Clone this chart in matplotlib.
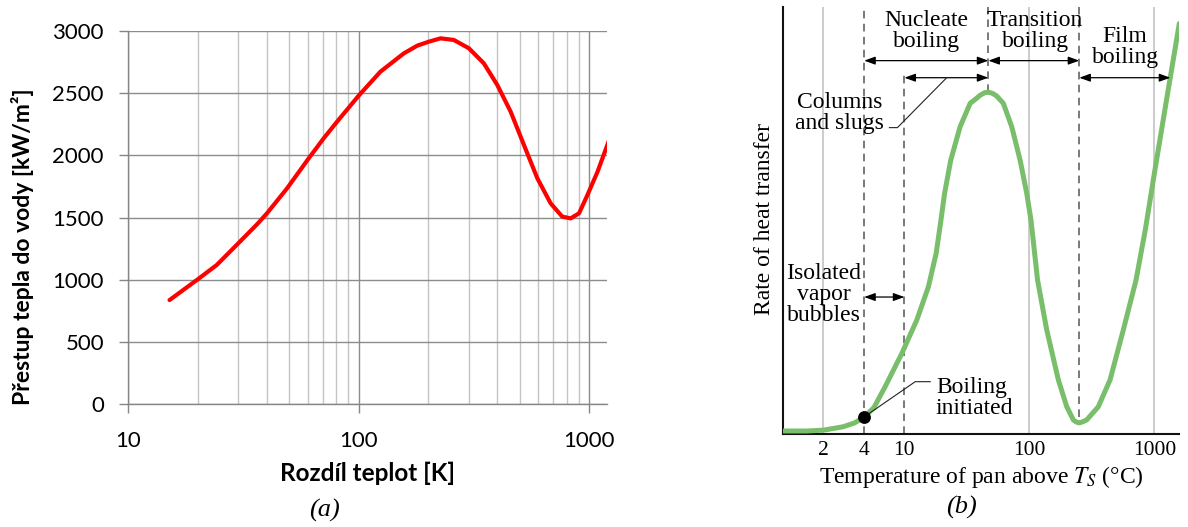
import matplotlib

matplotlib.use("Agg")
import matplotlib.pyplot as plt
import numpy as np

# ---- panel (a): heat flux vs temperature difference
A_DT = [15.1, 20.1, 24.2, 30.0, 36.2, 40.0, 48.9, 60.7, 70.5, 80.6, 100, 124.3,
        157, 179.5, 201.6, 226.6, 258.8, 300.9, 349.3, 399.6, 456.8, 521.7, 596.5,
        681, 765, 832, 905, 984, 1089, 1222]
A_Q = [836, 1005, 1118, 1292, 1445, 1534, 1735, 1976, 2137, 2271, 2480, 2673,
       2820, 2882, 2914, 2941, 2928, 2861, 2740, 2566, 2351, 2083, 1815,
       1614, 1507, 1493, 1534, 1681, 1869, 2123]
A_YTICKS = [0, 500, 1000, 1500, 2000, 2500, 3000]
A_XTICKS = [10, 100, 1000]

# ---- panel (b): schematic boiling curve (arbitrary rate units)
B_DT = [1.0, 1.5, 2.0, 2.8, 3.4, 4.0, 5.0, 6.45, 9.44, 12.56, 15.56, 17.94, 19.59,
        20.97, 23.5, 27.9, 33.6, 37.9, 40.4, 44.0, 47.0, 51.0, 54.8, 61.9, 72.3,
        84.3, 95.3, 103.2, 116.3, 137.7, 170.6, 199.2, 224.9, 237.7, 251.2, 269,
        287.9, 356.4, 442.6, 564.9, 714.5, 850, 1000, 1256, 1585]
B_RATE = [0.007, 0.007, 0.009, 0.017, 0.026, 0.040, 0.062, 0.111, 0.189, 0.267,
          0.345, 0.423, 0.500, 0.564, 0.642, 0.720, 0.775, 0.787, 0.794, 0.800,
          0.801, 0.798, 0.792, 0.775, 0.720, 0.642, 0.564, 0.500, 0.361, 0.244,
          0.127, 0.064, 0.033, 0.028, 0.026, 0.029, 0.033, 0.064, 0.127, 0.244,
          0.361, 0.481, 0.610, 0.785, 0.962]
B_XTICKS = [2, 4, 10, 100, 1000]
B_GRID = [2, 100, 1000]
ONSET_DT = 4
ONSET_RATE = 0.040
NUCLEATE_START = 4
COLUMNS_START = 10
PEAK_DT = 47
MIN_DT = 251
FILM_END = 1343

# the textbook axis is log-like but squeezes 2..10
SCALE_VALS = np.log10([0.01, 1, 2, 4, 10, 100, 1000, 10000, 1e6])
SCALE_POS = np.array([-1.3, 0.026, 0.352, 0.678, 1.0, 2.0, 3.0, 4.0, 6.0])


def fwd(x):
    x = np.clip(np.asarray(x, dtype=float), 1e-2, 1e6)
    return np.interp(np.log10(x), SCALE_VALS, SCALE_POS)


def inv(p):
    return 10 ** np.interp(np.asarray(p, dtype=float), SCALE_POS, SCALE_VALS)


W, H = 1188, 527


def px_box(left, top, right, bottom):
    return [left / W, 1 - bottom / H, (right - left) / W, (bottom - top) / H]


def draw_a(fig):
    ax = fig.add_axes(px_box(128.3, 31, 607.3, 404))
    ax.set_xscale("log")
    ax.set_xlim(10, 1200)
    ax.set_ylim(0, 3000)
    ax.plot(A_DT, A_Q, color="#ff0000", lw=3, solid_capstyle="round",
            solid_joinstyle="round", zorder=3)

    ax.set_yticks(A_YTICKS, labels=[str(v) for v in A_YTICKS])
    ax.set_xticks(A_XTICKS, labels=[str(v) for v in A_XTICKS])
    ax.xaxis.set_minor_formatter(matplotlib.ticker.NullFormatter())
    ax.grid(which="major", color="#8c8c8c", lw=1.0)
    ax.grid(which="minor", axis="x", color="#c4c4c4", lw=1.0)
    ax.set_axisbelow(True)

    for side in ("top", "right"):
        ax.spines[side].set_visible(False)
    for side in ("left", "bottom"):
        ax.spines[side].set_color("#868686")
        ax.spines[side].set_linewidth(1.0)

    ax.tick_params(which="major", direction="out", length=6.5, width=1.0,
                   color="#868686", labelsize=16, labelcolor="black")
    ax.tick_params(axis="y", pad=11)
    ax.tick_params(axis="x", pad=13)
    ax.tick_params(which="minor", length=0)
    for lab in ax.get_xticklabels() + ax.get_yticklabels():
        lab.set_family("Lato")

    fig.text(22.6 / W, 1 - 247 / H, "Přestup tepla do vody [kW/m²]", rotation=90,
             ha="center", va="center", family="Lato", weight="bold", fontsize=16.5)
    fig.text(368 / W, 1 - 473 / H, "Rozdíl teplot [K]", ha="center", va="center",
             family="Lato", weight="bold", fontsize=17.5)
    fig.text(324.6 / W, 1 - 510 / H, "(a)", ha="center", va="center",
             family="Liberation Serif", style="italic", fontsize=19)


def span(ax, x0, x1, y):
    ax.annotate("", xy=(x1, y), xytext=(x0, y),
                arrowprops=dict(arrowstyle="<|-|>,head_length=0.55,head_width=0.2",
                                color="black", lw=0.9, shrinkA=0, shrinkB=0,
                                mutation_scale=12))


def draw_b(fig):
    serif = "Liberation Serif"
    ax = fig.add_axes(px_box(782.7, 7.3, 1179.3, 434))
    ax.set_xscale("function", functions=(fwd, inv))
    ax.set_xlim(1.0, 1585)
    ax.set_ylim(0, 1)

    for x in B_GRID:
        ax.plot([x, x], [0, 1], color="#c8c8c8", lw=1.3, zorder=1)

    dash = dict(color="#555555", lw=1.1, ls=(0, (5, 3.5)), zorder=2)
    ax.plot([NUCLEATE_START] * 2, [0, 1], **dash)
    ax.plot([COLUMNS_START] * 2, [0, 0.845], **dash)
    ax.plot([PEAK_DT] * 2, [0.801, 1], **dash)
    ax.plot([MIN_DT] * 2, [0.04, 1], **dash)

    ax.plot(B_DT, B_RATE, color="#79be6a", lw=3.6, solid_capstyle="round",
            solid_joinstyle="round", zorder=3)
    ax.plot([ONSET_DT], [ONSET_RATE], "o", color="black", ms=8.2, zorder=5)

    span(ax, NUCLEATE_START, PEAK_DT, 0.875)
    span(ax, PEAK_DT, MIN_DT, 0.875)
    span(ax, COLUMNS_START, PEAK_DT, 0.835)
    span(ax, MIN_DT, FILM_END, 0.835)
    span(ax, NUCLEATE_START, COLUMNS_START, 0.321)

    lead = dict(color="#222222", lw=0.8, zorder=4)
    ax.plot([7.11, 8.53, 21.8], [0.718, 0.718, 0.835], **lead)
    ax.plot([ONSET_DT, 12.2, 16.1], [ONSET_RATE, 0.1226, 0.1226], **lead)

    txt = dict(family=serif, fontsize=17, linespacing=1.0, va="center", zorder=6)
    ax.text(15.1, 0.945, "Nucleate\nboiling", ha="center", **txt)
    ax.text(111, 0.945, "Transition\nboiling", ha="center", **txt)
    ax.text(583, 0.906, "Film\nboiling", ha="center", **txt)
    ax.text(2.64, 0.753, "Columns\nand slugs", ha="center", **txt)
    ax.text(2.0, 0.326, "Isolated\nvapor\nbubbles", ha="center", **txt)
    ax.text(17.9, 0.084, "Boiling\ninitiated", ha="left", **txt)

    ax.set_xticks(B_XTICKS, labels=[str(v) for v in B_XTICKS])
    ax.xaxis.set_minor_locator(matplotlib.ticker.NullLocator())
    ax.set_yticks([])
    ax.tick_params(axis="x", length=0, pad=5, labelsize=15.5)
    for lab in ax.get_xticklabels():
        lab.set_family(serif)
    for side in ("top", "right"):
        ax.spines[side].set_visible(False)
    for side in ("left", "bottom"):
        ax.spines[side].set_color("#111111")
        ax.spines[side].set_linewidth(1.5)

    fig.text(765 / W, 1 - 219 / H, "Rate of heat transfer", rotation=90,
             ha="center", va="center", family=serif, fontsize=17)
    fig.text(981.7 / W, 1 - 477 / H, "Temperature of pan above $T_S$ (°C)",
             ha="center", va="center", family=serif, fontsize=17)
    fig.text(961.7 / W, 1 - 507 / H, "(b)", ha="center", va="center",
             family=serif, style="italic", fontsize=19)


def main() -> None:
    plt.rcParams["mathtext.fontset"] = "stix"
    fig = plt.figure(figsize=(W / 100, H / 100), dpi=100)
    draw_a(fig)
    draw_b(fig)
    fig.savefig("out.png", dpi=100)
    plt.close(fig)


if __name__ == "__main__":
    main()
